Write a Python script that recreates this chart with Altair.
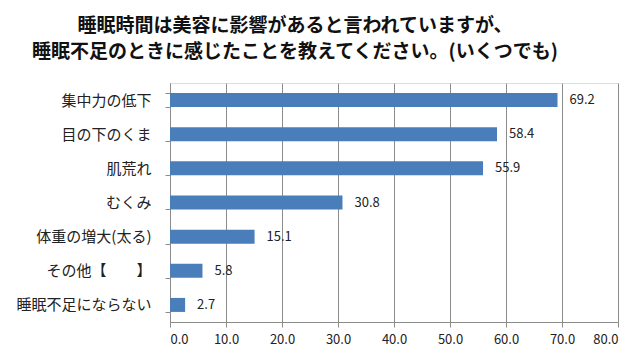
import altair as alt
import pandas as pd

categories = ["集中力の低下", "目の下のくま", "肌荒れ", "むくみ", "体重の増大(太る)", "その他【　　】", "睡眠不足にならない"]
values = [69.2, 58.4, 55.9, 30.8, 15.1, 5.8, 2.7]
x_ticks = [0, 10, 20, 30, 40, 50, 60, 70, 80]
title_lines = ["睡眠時間は美容に影響があると言われていますが、", "睡眠不足のときに感じたことを教えてください。(いくつでも)"]

df = pd.DataFrame({"cat": categories, "val": values})
FONT = "Noto Sans CJK JP"

x = alt.X("val:Q", scale=alt.Scale(domain=[0, 80]),
          axis=alt.Axis(values=x_ticks, format=".1f", title=None, grid=True,
                        gridColor="#8c8c8c", domainColor="#8c8c8c", tickColor="#8c8c8c",
                        tickSize=5, labelFontSize=13, labelColor="#222", labelFont=FONT,
                        labelPadding=6))
y = alt.Y("cat:N", sort=categories, scale=alt.Scale(paddingInner=0.59, paddingOuter=0.295),
          axis=alt.Axis(title=None, tickBand="extent", domainColor="#8c8c8c", tickColor="#8c8c8c",
                        tickSize=5, labelFontSize=15, labelColor="#222", labelFont=FONT,
                        labelPadding=14))

bars = alt.Chart(df).mark_bar(color="#4a7ebb").encode(x=x, y=y)
labels = alt.Chart(df).mark_text(align="left", dx=12, fontSize=13, color="#222", font=FONT).encode(
    x="val:Q", y=alt.Y("cat:N", sort=categories), text=alt.Text("val:Q", format=".1f"))

chart = alt.layer(bars, labels).properties(
    width=448, height=239,
    title=alt.TitleParams(title_lines, anchor="middle", dx=-99, fontSize=19, font=FONT,
                          fontWeight="bold", color="#111", lineHeight=26, offset=14),
    autosize=alt.AutoSizeParams(type="none"),
    padding={"left": 162, "top": 75, "right": 14, "bottom": 30},
).configure_view(stroke=None).configure(background="white")

chart.save("out.html", embed_options={"renderer": "svg", "actions": False})
